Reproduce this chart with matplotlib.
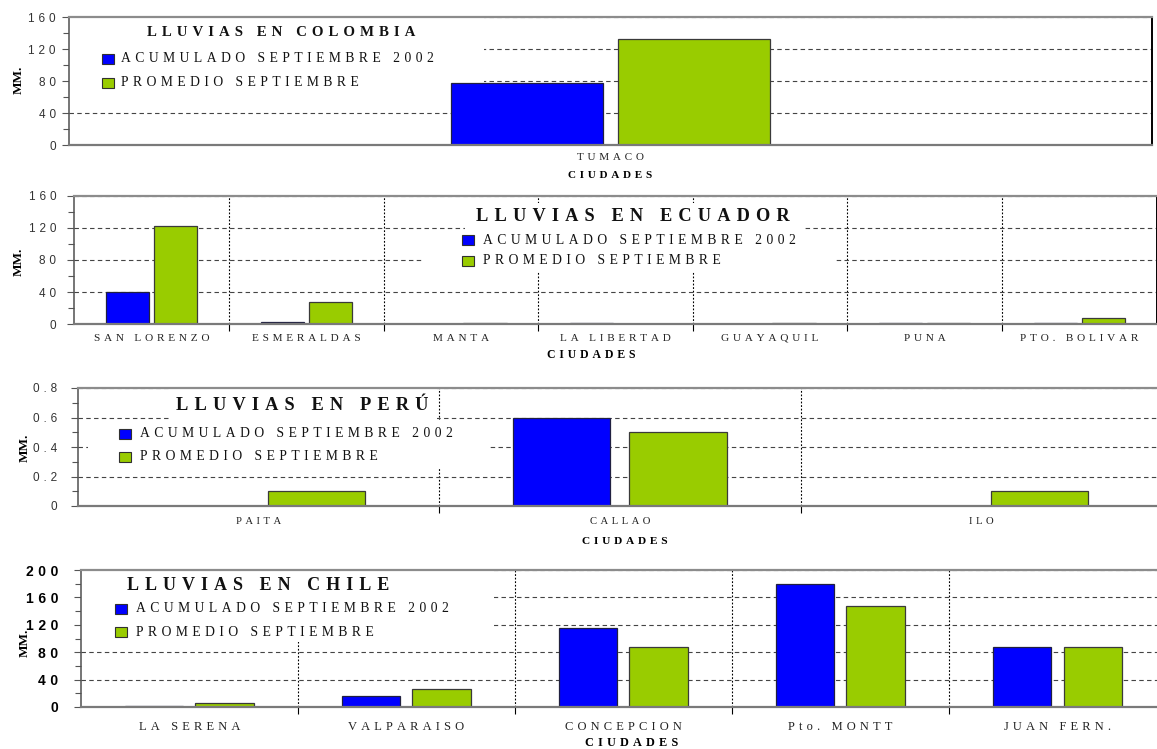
import numpy as np
import matplotlib
matplotlib.use("Agg")
import matplotlib.pyplot as plt
from matplotlib.patches import Rectangle
from matplotlib.ticker import MultipleLocator

# ---------------- data ----------------
COL_CITIES = ["TUMACO"]
COL_ACUM = [77]
COL_PROM = [133]

ECU_CITIES = ["SAN LORENZO", "ESMERALDAS", "MANTA", "LA LIBERTAD",
              "GUAYAQUIL", "PUNA", "PTO. BOLIVAR"]
ECU_ACUM = [40, 2.5, 0, 0.8, 0, 1.5, 1.5]
ECU_PROM = [122, 28, 1.5, 0, 0.8, 0.8, 7]

PER_CITIES = ["PAITA", "CALLAO", "ILO"]
PER_ACUM = [0, 0.6, 0]
PER_PROM = [0.1, 0.5, 0.1]

CHI_CITIES = ["LA SERENA", "VALPARAISO", "CONCEPCION", "Pto. MONTT", "JUAN FERN."]
CHI_ACUM = [1, 16, 115, 179, 88]
CHI_PROM = [6, 26, 87, 147, 87]

COL_YTICKS = [0, 40, 80, 120, 160]
ECU_YTICKS = [0, 40, 80, 120, 160]
PER_YTICKS = [0, 0.2, 0.4, 0.6, 0.8]
CHI_YTICKS = [0, 40, 80, 120, 160, 200]

TITLES = ["LLUVIAS EN COLOMBIA", "LLUVIAS EN ECUADOR", "LLUVIAS EN PERÚ", "LLUVIAS EN CHILE"]
SERIES = ["ACUMULADO SEPTIEMBRE 2002", "PROMEDIO SEPTIEMBRE"]
XLABEL = "CIUDADES"
YLABEL = "MM."

# ---------------- style ----------------
BLUE = "#0000FF"
GREEN = "#99CC00"
SERIF = ["Liberation Serif", "DejaVu Serif"]
SANS = ["Liberation Sans", "DejaVu Sans"]
THIRD = "\u2004"   # three-per-em space, used for letter spacing
THIN = "\u2009"

W, H = 1157, 749
fig = plt.figure(figsize=(W / 100, H / 100), dpi=100)
fig.patch.set_facecolor("white")


def spaced(text, gap=THIRD):
    return gap.join(text)


def P(x, y):
    """pixel position (from top-left) -> figure fraction"""
    return x / W, 1 - y / H


def fmt(v):
    return f"{v:g}"


def panel(box, cities, acum, prom, yticks, yminor, width, offset,
          vgrid, xt_size, xt_pad, yt_size, yt_pad, yt_bold, masks):
    l, t, r, b = box
    ax = fig.add_axes([l / W, 1 - b / H, (r - l) / W, (b - t) / H])
    n = len(cities)
    x = np.arange(n)
    ax.bar(x - offset, acum, width, color=BLUE, edgecolor="#202040",
           linewidth=0.9, zorder=2)
    ax.bar(x + offset, prom, width, color=GREEN, edgecolor="#3a3a3a",
           linewidth=0.9, zorder=2)
    ax.set_xlim(-0.5, n - 0.5)
    ax.set_ylim(yticks[0], yticks[-1])

    ax.set_axisbelow(True)
    ax.set_yticks(yticks)
    ax.set_yticklabels([spaced(fmt(v)) for v in yticks], fontfamily=SANS,
                       fontsize=yt_size,
                       fontweight="bold" if yt_bold else "normal",
                       color="#000000" if yt_bold else "#333333")
    ax.yaxis.set_minor_locator(MultipleLocator(yminor))
    ax.tick_params(axis="y", which="major", direction="out", length=5,
                   width=0.8, color="#555555", pad=yt_pad)
    ax.tick_params(axis="y", which="minor", direction="out", length=4,
                   width=0.8, color="#555555")
    ax.grid(axis="y", which="major", linestyle=(0, (4, 3)), color="#444444",
            linewidth=0.8)

    ax.set_xticks(x)
    ax.set_xticklabels([spaced(c) for c in cities], fontfamily=SERIF,
                       fontsize=xt_size, color="#222222")
    ax.tick_params(axis="x", which="major", length=0, pad=xt_pad)
    if vgrid:
        ax.set_xticks(np.arange(0.5, n - 1, 1), minor=True)
        ax.grid(axis="x", which="minor", linestyle=(0, (1.6, 1.6)),
                color="#000000", linewidth=0.8)
        ax.tick_params(axis="x", which="minor", direction="out", length=5,
                       width=0.8, color="#000000")
    else:
        ax.tick_params(axis="x", which="minor", length=0)

    for side, col, lw in (("top", "#8c8c8c", 1.6), ("bottom", "#7a7a7a", 1.6),
                          ("left", "#505050", 1.1), ("right", "#000000", 1.4)):
        ax.spines[side].set_color(col)
        ax.spines[side].set_linewidth(lw)

    for (ml, mt, mr, mb) in masks:
        ax.add_patch(Rectangle((ml / W, 1 - mb / H), (mr - ml) / W, (mb - mt) / H,
                               transform=fig.transFigure, facecolor="white",
                               edgecolor="none", zorder=1))
    return ax


def legend(title, title_xy, title_size, key_x, rows_y, text_x, key_w=12, key_h=10):
    tx, ty = P(*title_xy)
    fig.text(tx, ty, spaced(title), fontfamily=SERIF, fontweight="bold",
             fontsize=title_size, ha="center", va="center", color="#111111")
    for label, col, y in zip(SERIES, (BLUE, GREEN), rows_y):
        kx, ky = P(key_x, y + key_h / 2)
        fig.add_artist(Rectangle((kx, ky), key_w / W, key_h / H,
                                 transform=fig.transFigure, facecolor=col,
                                 edgecolor="#303030", linewidth=0.8))
        lx, ly = P(text_x, y)
        fig.text(lx, ly, spaced(label), fontfamily=SERIF, fontsize=9.8,
                 ha="left", va="center", color="#111111")


def axis_labels(mm_xy, ciu_xy, ciu_size):
    x, y = P(*mm_xy)
    fig.text(x, y, YLABEL, fontfamily=SERIF, fontweight="bold", fontsize=9.5,
             rotation=90, ha="center", va="center")
    x, y = P(*ciu_xy)
    fig.text(x, y, spaced(XLABEL), fontfamily=SERIF, fontweight="bold",
             fontsize=ciu_size, ha="center", va="center")


# ---------------- Colombia ----------------
panel((69, 17, 1152, 145), COL_CITIES, COL_ACUM, COL_PROM, COL_YTICKS, 20,
      0.141, 0.077, False, 8.0, 6.0, 8.5, 4.5, False,
      [(69, 17, 484, 100)])
legend(TITLES[0], (281, 33), 10.7, 102, (59, 83), 121)
axis_labels((19, 80), (610, 175), 8.0)

# ---------------- Ecuador ----------------
panel((74.4, 196, 1156.6, 324), ECU_CITIES, ECU_ACUM, ECU_PROM, ECU_YTICKS, 20,
      0.28, 0.155, True, 8.1, 7.0, 8.5, 8.0, False,
      [(465, 203, 803, 236), (423, 236, 834, 272)])
legend(TITLES[1], (633, 217), 13.2, 462, (240, 261), 483)
axis_labels((19, 262), (591, 355), 8.5)

# ---------------- Perú ----------------
panel((77.7, 388, 1162, 506), PER_CITIES, PER_ACUM, PER_PROM, PER_YTICKS, 0.1,
      0.27, 0.161, True, 7.7, 8.0, 8.5, 9.5, False,
      [(170, 389, 437, 419.5), (88, 419.5, 490, 468)])
legend(TITLES[2], (302, 405), 13.2, 119, (434, 457), 140)
axis_labels((25, 448), (625, 541), 8.2)

# ---------------- Chile ----------------
panel((80.7, 570, 1166, 707), CHI_CITIES, CHI_ACUM, CHI_PROM, CHI_YTICKS, 20,
      0.27, 0.163, True, 9.0, 10.0, 10.0, 11.0, True,
      [(81, 571, 494, 642)])
legend(TITLES[3], (258, 586), 13.0, 115, (609, 632), 136)
axis_labels((25, 643), (632, 743), 8.8)

fig.savefig("out.png", dpi=100, facecolor="white")
